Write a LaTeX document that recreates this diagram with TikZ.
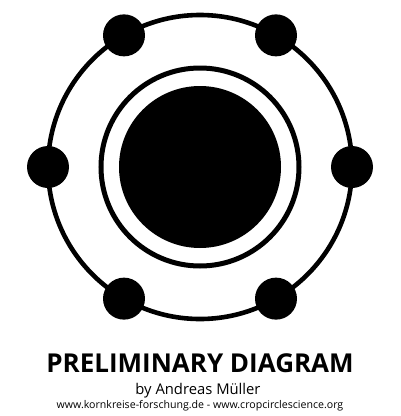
\documentclass[tikz,border=0pt]{standalone}
\usepackage{fontspec}
\setmainfont{Open Sans}
\usetikzlibrary{positioning}

\begin{document}
\begin{tikzpicture}[x=1pt, y=-1pt,
    orbit/.style={line width=4.6pt},
    heading/.style={font=\fontsize{26}{26}\selectfont\bfseries, inner sep=0pt},
    byline/.style={font=\fontsize{14.8}{14.8}\selectfont, inner sep=0pt},
    weblink/.style={font=\fontsize{10.6}{10.6}\selectfont, inner sep=0pt}]

    \useasboundingbox (0, 0) rectangle (400, 416);

    \coordinate (centre) at (200, 167);

    % outer ring with six planets
    \draw [orbit] (centre) circle (152);
    \foreach \a in {0, 60, ..., 300}
      \fill (centre) ++(\a:152) circle (21);

    % inner ring and core
    \draw [orbit, line width=5pt] (centre) circle (99);
    \fill (centre) circle (81);

    \node [heading, anchor=base] (title) at (200, 372) {PRELIMINARY DIAGRAM};
    \node [byline, anchor=base] (author) at (198, 394) {by Andreas Müller};
    \node [weblink, anchor=base] (web) at (200, 408)
      {www.kornkreise-forschung.de - www.cropcirclescience.org};

  \end{tikzpicture}
\end{document}
